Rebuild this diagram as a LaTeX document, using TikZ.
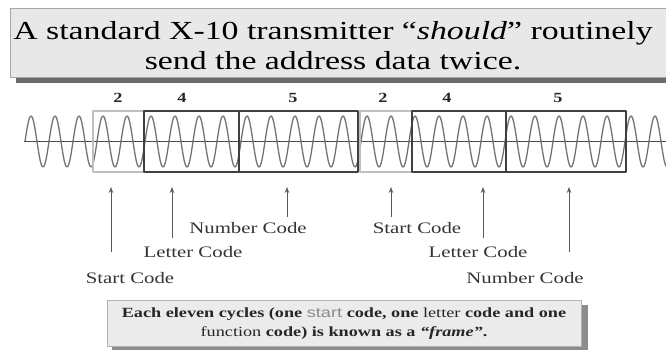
\documentclass[tikz,border=0pt]{standalone}
\usepackage{fontspec}
\setmainfont{Liberation Serif}
\setsansfont{Liberation Sans}
\usetikzlibrary{arrows.meta,positioning}

\begin{document}
\begin{tikzpicture}[x=1pt,y=-1pt,>={Stealth[length=6pt,width=4.5pt]},line join=round,
	wide/.style={xscale=1.3},
	codelbl/.style={wide,font=\fontsize{16}{18}\selectfont,text=black!80,inner sep=0pt},
	digit/.style={wide,font=\fontsize{14}{16}\selectfont\bfseries,text=black!85,inner sep=0pt},
	startbox/.style={draw=black!25,line width=1.3pt,inner sep=0pt,minimum height=61pt},
	codebox/.style={draw=black!75,line width=1.5pt,inner sep=0pt,minimum height=61pt},
	pointer/.style={->,draw=black!65,line width=0.9pt}]
	\useasboundingbox (0,0) rectangle (666,349);
	\clip (0,0) rectangle (666,349);
	\def\axisy{141.5} \def\amp{25.5}
	% title
	\fill[black!58] (16,13) rectangle (700,82.5);
	\filldraw[fill=black!9,draw=black!35] (10.5,8) rectangle (700,77);
	\node[wide,align=center,font=\fontsize{26}{30}\selectfont] (title) at (333,46)
		{A standard X-10 transmitter “\textit{should}” routinely\\send the address data twice.};
	% carrier
	\draw[black!70,line width=0.8pt] (24,\axisy)--(666,\axisy);
	\draw[black!55,line width=1.3pt,smooth,samples=700,domain=25:670] plot(\x,{\axisy-\amp*sin(15*(\x-25))});
	\foreach \l/\r/\sty/\nm in {93/144/startbox/sa,144/239/codebox/la,239/358/codebox/na,360/412/startbox/sb,412/506/codebox/lb,506/626/codebox/nb}
		\node[\sty,minimum width={(\r-\l)*1pt}] (\nm) at ({(\l+\r)/2},\axisy) {};
	\node[digit] (dsa) at (118,98) {2};
	\node[digit] (dla) at (182,98) {4};
	\node[digit] (dna) at (293,98) {5};
	\node[digit] (dsb) at (383,98) {2};
	\node[digit] (dlb) at (447,98) {4};
	\node[digit] (dnb) at (558,98) {5};
	% pointers
	\node[codelbl] (starta) at (130,278) {Start Code};
	\node[codelbl] (lettera) at (193,252) {Letter Code};
	\node[codelbl] (numbera) at (248,228) {Number Code};
	\node[codelbl] (startb) at (417,228) {Start Code};
	\node[codelbl] (letterb) at (478,252) {Letter Code};
	\node[codelbl] (numberb) at (525,278) {Number Code};
	\foreach \x/\t/\nm in {111/252/1,172/238/2,287/217/3,391/217/4,483/238/5,569/252/6}{
		\coordinate (tip\nm) at (\x,187);
		\coordinate (tail\nm) at (\x,\t);
		\draw[pointer] (tail\nm)--(tip\nm);
	}
	% frame note
	\fill[black!45] (112,305) rectangle (588,352);
	\filldraw[fill=black!8,draw=black!30] (107,300.5) rectangle (581.5,346.5);
	\node[wide,align=center,font=\fontsize{14}{19}\selectfont\bfseries,text=black!85] (frame) at (344,324)
		{Each eleven cycles (one {\sffamily\mdseries\color{black!45}start} code, one {\mdseries letter} code and one\\
		{\mdseries function} code) is known as a \textit{“frame”}.};
\end{tikzpicture}
\end{document}
